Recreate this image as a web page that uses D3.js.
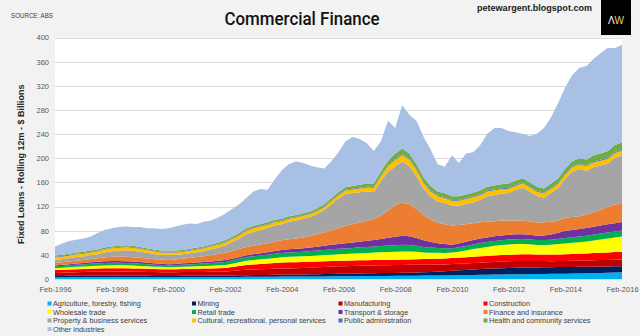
<!DOCTYPE html>
<html>
<head>
<meta charset="utf-8">
<script src="https://cdn.jsdelivr.net/npm/d3@7"></script>
<style>
  html, body { margin: 0; padding: 0; background: #f2f2f2; }
  svg { display: block; font-family: "Liberation Sans", Arial, sans-serif; }
</style>
</head>
<body>
<div class="container"></div>
<script>
// Commercial finance, fixed loans by industry, rolling 12m ($bn), quarterly Feb-1996 .. Feb-2016

var industries = [
    "Agriculture, forestry, fishing", "Mining", "Manufacturing", "Construction",
    "Wholesale trade", "Retail trade", "Transport & storage", "Finance and insurance",
    "Property & business services", "Cultural, recreational, personal services",
    "Public administration", "Health and community services", "Other industries"
];
var colours = [
    "#00b0f0", "#002060", "#c00000", "#ff0000",
    "#ffff00", "#00b050", "#7030a0", "#ed7d31",
    "#a5a5a5", "#ffc000", "#4472c4", "#70ad47", "#a7c0e4"
];

var agriculture = [3.0,3.1,3.1,3.2,3.2,3.3,3.3,3.3,3.4,3.4, 3.3,3.3,3.2,3.2,3.1,3.1,3.0,3.0,3.1,3.1,
    3.1,3.2,3.2,3.3,3.3,3.4,3.5,3.6,3.7,3.8, 3.8,3.9,4.0,4.0,4.1,4.1,4.2,4.3,4.3,4.4,
    4.5,4.6,4.7,4.8,4.9,5.0,5.1,5.1,5.2,5.3, 5.4,5.5,5.6,5.7,5.9,6.0,6.2,6.4,6.6,6.8,
    7.0,7.2,7.4,7.6,7.8,7.9,8.0,8.1,8.2,8.4, 8.5,8.7,8.9,9.1,9.3,9.5,9.8,10.1,10.4,10.7, 11.0];
var mining = [2.0,2.0,2.1,2.1,2.0,2.1,2.2,2.2,2.1,2.2, 2.2,2.1,2.1,2.0,2.0,2.0,2.1,2.1,2.2,2.2,
    2.3,2.3,2.4,2.4,2.5,2.5,2.6,2.7,2.8,2.9, 3.0,3.1,3.2,3.3,3.3,3.4,3.5,3.6,3.8,3.9,
    4.0,4.1,4.2,4.4,4.5,4.6,4.7,4.7,4.8,4.9, 5.0,5.2,5.5,5.9,6.3,6.8,7.5,8.0,8.5,9.0,
    9.5,9.8,10.1,10.3,10.5,10.8,11.0,11.1,11.0,11.0, 11.0,11.0,11.0,10.9,10.8,10.7,10.6,10.5,10.4,10.3, 10.2];
var manufacturing = [5.0,5.3,5.6,5.9,6.2,6.5,6.7,6.9,7.0,7.0, 6.9,6.8,6.7,6.5,6.3,6.2,6.0,6.0,6.1,6.1,
    6.2,6.2,6.3,6.4,6.5,7.3,8.2,9.0,9.2,9.4, 9.6,9.8,10.0,10.2,10.4,10.6,11.0,11.4,11.8,12.2,
    12.5,12.6,12.7,12.8,12.8,12.9,12.9,13.0,13.0,13.0, 13.0,12.8,12.5,12.2,11.8,11.4,11.0,10.8,10.6,10.5,
    10.5,10.6,10.8,10.9,11.0,11.0,11.0,10.8,10.5,10.3, 10.1,10.0,10.0,10.1,10.2,10.4,10.5,10.7,10.8,10.9, 11.0];
var construction = [5.0,5.0,5.1,5.1,5.2,5.2,5.3,5.3,5.4,5.4, 5.3,5.3,5.2,5.1,5.0,5.0,5.0,5.1,5.2,5.3,
    5.4,5.5,5.6,5.8,6.0,6.6,7.3,8.0,8.3,8.7, 9.1,9.5,10.0,10.1,10.1,10.0,10.0,9.8,9.5,9.2,
    9.0,9.0,9.0,9.0,9.0,9.0,9.0,9.0,9.0,9.0, 9.1,9.3,9.5,9.6,9.7,9.8,10.0,10.1,10.2,10.4,
    10.5,10.6,10.8,10.9,11.0,11.0,11.0,10.9,10.7,10.7, 10.8,10.9,11.0,11.2,11.4,11.7,12.0,12.3,12.5,12.8, 13.0];
var wholesale = [3.0,3.2,3.5,3.8,4.1,4.4,4.6,4.8,5.0,5.0, 4.9,4.7,4.5,4.3,4.0,3.8,3.5,3.6,3.8,4.0,
    4.2,4.4,4.6,4.8,5.0,5.6,6.3,7.0,7.4,7.8, 8.2,8.6,9.0,9.1,9.2,9.4,9.5,9.8,10.2,10.6,
    11.0,11.2,11.5,11.8,12.0,12.3,12.6,12.8,13.0,13.5, 13.2,12.2,11.0,10.2,9.6,9.2,9.0,10.0,11.3,12.8,
    14.0,15.0,15.8,16.5,17.0,17.2,17.0,16.6,16.0,16.0, 16.5,17.2,18.0,18.6,19.3,20.0,21.0,22.0,23.0,24.0, 25.0];
var retail = [3.0,3.1,3.3,3.4,3.5,3.6,3.8,3.9,4.0,4.0, 3.9,3.8,3.6,3.4,3.2,3.1,3.0,3.1,3.3,3.5,
    3.7,4.0,4.3,4.6,5.0,5.3,5.6,6.0,6.2,6.4, 6.6,6.8,7.0,7.2,7.4,7.6,8.0,8.2,8.5,8.8,
    9.0,9.2,9.4,9.6,10.0,10.2,10.5,10.8,11.0,11.0, 10.8,10.0,9.0,8.4,8.0,7.6,7.0,7.2,7.5,7.8,
    8.0,8.0,8.0,8.0,8.0,8.1,8.2,8.1,8.0,8.1, 8.3,8.6,9.0,9.1,9.3,9.4,9.6,9.8,9.9,10.0, 10.1];
var transport = [1.5,1.7,1.9,2.1,2.3,2.5,2.7,2.8,3.0,3.0, 2.9,2.8,2.7,2.5,2.3,2.2,2.0,2.1,2.2,2.3,
    2.4,2.5,2.7,2.8,3.0,3.0,3.1,3.1,3.4,3.8, 4.2,4.6,5.0,5.2,5.4,5.7,6.0,6.5,7.0,7.5,
    8.0,8.5,9.0,9.5,10.0,10.5,11.5,13.0,14.0,15.0, 14.5,13.0,11.0,9.5,8.0,7.0,6.0,6.4,6.8,7.2,
    7.5,7.7,7.9,8.0,8.0,8.0,8.0,7.6,7.2,7.5, 8.5,10.0,12.0,12.3,12.5,12.7,13.0,13.3,13.6,13.8, 14.0];
var finance = [4.0,4.2,4.4,4.7,5.0,5.4,5.9,6.4,7.0,7.2, 7.3,7.2,7.0,6.9,6.8,6.8,7.0,7.4,7.9,8.4,
    9.0,9.7,10.4,11.2,12.0,12.6,13.0,13.4,14.0,14.4, 14.8,15.3,16.0,16.6,17.2,17.8,19.0,20.5,22.0,24.0,
    26.0,29.0,30.0,31.5,33.0,35.0,39.0,45.0,52.0,55.0, 53.0,48.0,42.0,37.0,34.0,33.0,32.0,30.5,29.0,28.0,
    27.0,26.0,25.0,24.5,23.5,23.0,22.5,22.0,22.0,22.0, 21.0,20.5,21.5,21.5,21.0,22.5,24.0,26.0,28.5,30.5, 32.0];
var property = [5.5,5.3,5.8,6.2,5.9,6.3,6.5,8.3,8.9,9.6, 11.1,10.9,10.1,9.4,8.9,7.6,8.4,7.5,7.0,7.7,
    8.2,8.5,9.6,10.5,12.2,14.8,17.0,21.2,22.9,23.9, 25.0,26.9,26.4,29.1,29.7,31.2,31.6,33.4,37.0,43.1,
    49.2,52.6,51.8,50.3,48.9,44.6,56.8,64.1,64.5,67.8, 63.1,54.3,43.5,38.0,35.0,35.1,32.8,32.1,33.9,34.8,
    37.1,42.3,43.5,44.6,45.5,50.5,54.8,49.3,43.9,40.5, 47.6,54.0,65.1,75.0,78.3,72.5,75.0,73.3,72.2,77.7, 78.2];
var cultural = [4.0,4.1,4.2,4.4,4.5,4.6,4.8,4.9,5.0,5.0, 5.0,4.9,4.8,4.6,4.4,4.2,4.0,4.1,4.2,4.3,
    4.4,4.5,4.6,4.8,5.0,5.3,5.6,6.0,6.0,5.8, 5.6,5.4,5.2,5.0,5.0,5.0,5.0,5.1,5.2,5.3,
    5.5,5.7,6.0,6.2,6.5,7.0,8.0,9.5,11.0,11.0, 10.8,10.2,9.5,9.0,8.6,8.3,8.0,8.0,8.0,8.0,
    8.0,7.8,7.6,7.4,7.2,7.0,7.0,7.0,7.0,7.0, 7.0,7.0,7.0,7.2,7.4,7.6,8.0,8.0,8.0,8.0, 8.0];
var publicAdmin = [1.0,1.0,1.0,1.0,1.0,1.0,1.0,1.0,1.0,1.0, 1.0,1.0,1.0,1.0,1.0,1.0,1.0,1.0,1.0,1.0,
    1.0,1.0,1.0,1.0,1.0,1.0,1.0,1.0,1.1,1.1, 1.1,1.1,1.2,1.2,1.2,1.2,1.2,1.2,1.3,1.3,
    1.3,1.3,1.3,1.4,1.4,1.4,1.4,1.5,1.5,1.5, 1.5,1.5,1.5,1.5,1.5,1.5,1.5,1.5,1.5,1.5,
    1.5,1.5,1.5,1.5,1.5,1.5,1.5,1.5,1.5,1.5, 1.5,1.5,1.5,1.5,1.5,1.5,1.5,1.5,1.5,1.5, 1.5];
var health = [2.0,2.0,2.0,2.1,2.1,2.1,2.2,2.2,2.2,2.2, 2.2,2.2,2.1,2.1,2.0,2.0,2.0,2.0,2.0,2.1,
    2.1,2.2,2.3,2.4,2.5,2.6,2.8,3.0,3.0,3.0, 3.0,3.0,3.0,3.0,3.0,3.0,3.0,3.2,3.4,3.7,
    4.0,4.2,4.4,4.7,5.0,5.5,6.5,7.5,9.0,9.0, 8.6,8.0,7.4,7.0,6.6,6.3,6.0,6.0,6.1,6.2,
    6.4,6.5,6.6,6.8,7.0,7.0,7.0,7.0,7.0,7.0, 7.2,7.6,8.0,8.5,9.0,9.5,10.0,10.5,11.2,11.8, 12.0];
var other = [15,19,21,21,22,23,27,29,30,31, 31,31,33,33,35,36,37,40,42,42,
    39,41,40,42,44,46,48,50,57,58, 54,67,80,86,89,83,76,68,59,61,
    66,76,81,76,67,54,50,66,42,72, 64,72,67,61,45,44,68,55,68,67,
    75,87,95,93,87,80,73,77,88,100, 110,125,135,143,150,155,160,166,171,160, 162];

var allSeries = [agriculture, mining, manufacturing, construction, wholesale, retail, transport,
    finance, property, cultural, publicAdmin, health, other];

var yTicks = [0, 40, 80, 120, 160, 200, 240, 280, 320, 360, 400];

var width = 640, height = 336;
var plot = {left: 55, right: 622, top: 37.5, bottom: 279};

// one point per quarter, Feb / May / Aug / Nov
var quarters = d3.timeMonth.range(new Date(1996, 1, 1), new Date(2016, 1, 2), 3);
var xTicks = quarters.filter(function(d, i) { return i % 8 === 0; });

var rows = quarters.map(function(d, i) {
    var row = {date: d};
    industries.forEach(function(name, k) { row[name] = allSeries[k][i]; });
    return row;
});

var svg = d3.select(".container").append("svg")
    .attr("width", width)
    .attr("height", height);

svg.append("rect").attr("width", width).attr("height", height).attr("fill", "#f2f2f2");
svg.append("rect")
    .attr("x", plot.left).attr("y", plot.top)
    .attr("width", plot.right - plot.left).attr("height", plot.bottom - plot.top)
    .attr("fill", "#ffffff");

var x = d3.scaleTime()
    .domain([quarters[0], quarters[quarters.length - 1]])
    .range([plot.left, plot.right]);
var y = d3.scaleLinear().domain([0, 400]).range([plot.bottom, plot.top]);

// gridlines
svg.append("g").selectAll("line")
    .data(yTicks)
    .enter().append("line")
    .attr("x1", plot.left).attr("x2", plot.right)
    .attr("y1", function(d) { return Math.round(y(d)) + 0.5; })
    .attr("y2", function(d) { return Math.round(y(d)) + 0.5; })
    .attr("stroke", "#d9d9d9")
    .attr("stroke-width", 1);

var stacked = d3.stack().keys(industries)(rows);

var area = d3.area()
    .x(function(d) { return x(d.data.date); })
    .y0(function(d) { return y(d[0]); })
    .y1(function(d) { return y(d[1]); });

svg.append("g").selectAll("path")
    .data(stacked)
    .enter().append("path")
    .attr("d", area)
    .attr("fill", function(d, i) { return colours[i]; });

// axes
var yAxis = svg.append("g")
    .attr("transform", "translate(" + plot.left + ",0)")
    .call(d3.axisLeft(y).tickValues(yTicks).tickSize(0).tickPadding(6));
yAxis.select(".domain").remove();
yAxis.selectAll("text")
    .attr("font-size", "7.5px")
    .attr("font-family", "Liberation Sans, Arial, sans-serif")
    .attr("fill", "#595959");

var xAxis = svg.append("g")
    .attr("transform", "translate(0," + plot.bottom + ")")
    .call(d3.axisBottom(x).tickValues(xTicks).tickFormat(d3.timeFormat("%b-%Y")).tickSize(0).tickPadding(8));
xAxis.select(".domain").remove();
xAxis.selectAll("text")
    .attr("font-size", "7.5px")
    .attr("font-family", "Liberation Sans, Arial, sans-serif")
    .attr("fill", "#595959");

// axis title
svg.append("text")
    .attr("transform", "translate(24," + ((plot.top + plot.bottom) / 2 + 6) + ") rotate(-90)")
    .attr("text-anchor", "middle")
    .attr("font-size", "9px")
    .attr("font-weight", "bold")
    .attr("fill", "#262626")
    .text("Fixed Loans - Rolling 12m - $ Billions");

// headings
svg.append("text")
    .attr("x", 302).attr("y", 25)
    .attr("text-anchor", "middle")
    .attr("font-family", "Roboto, sans-serif")
    .attr("font-size", "19px")
    .attr("font-weight", 500)
    .attr("textLength", 155)
    .attr("lengthAdjust", "spacingAndGlyphs")
    .attr("fill", "#111111")
    .text("Commercial Finance");

svg.append("text")
    .attr("x", 11).attr("y", 17.5)
    .attr("font-size", "7px")
    .attr("textLength", 42)
    .attr("lengthAdjust", "spacingAndGlyphs")
    .attr("fill", "#404040")
    .text("SOURCE: ABS");

svg.append("text")
    .attr("x", 477).attr("y", 10.5)
    .attr("font-size", "9px")
    .attr("font-weight", "bold")
    .attr("textLength", 115)
    .attr("lengthAdjust", "spacingAndGlyphs")
    .attr("fill", "#1a1a1a")
    .text("petewargent.blogspot.com");

// AW badge
svg.append("rect")
    .attr("x", 601).attr("y", 0).attr("width", 30).attr("height", 35)
    .attr("fill", "#000000");
var badge = svg.append("text")
    .attr("x", 616).attr("y", 24)
    .attr("text-anchor", "middle")
    .attr("font-size", "10px");
badge.append("tspan").attr("fill", "#ffffff").text("\u039b");
badge.append("tspan").attr("fill", "#e6d27a").text("W");

// legend, four columns
var legendCols = [47.5, 192, 338.5, 483.5];
var legendRows = [303.5, 312, 320.5, 329];
var legend = svg.append("g").selectAll("g")
    .data(industries)
    .enter().append("g")
    .attr("transform", function(d, i) {
        return "translate(" + legendCols[i % 4] + "," + legendRows[Math.floor(i / 4)] + ")";
    });
legend.append("rect")
    .attr("x", 0).attr("y", -2)
    .attr("width", 4).attr("height", 4)
    .attr("fill", function(d, i) { return colours[i]; });
legend.append("text")
    .attr("x", 5.5).attr("y", 2.6)
    .attr("font-size", "7.3px")
    .attr("fill", "#404040")
    .text(function(d) { return d; });
</script>
</body>
</html>
